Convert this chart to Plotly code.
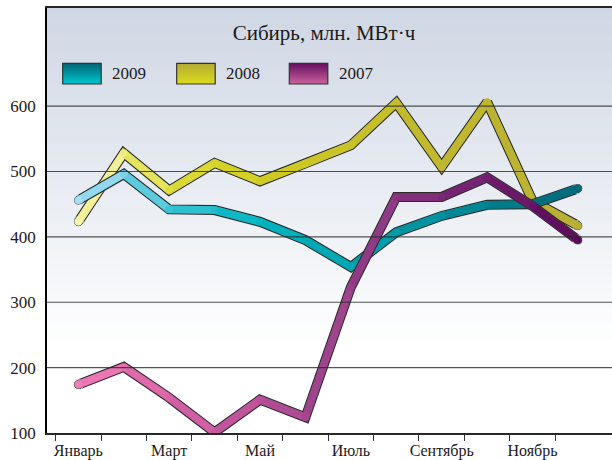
import plotly.graph_objects as go

# ---------------- data ----------------
months = ["Январь", "Февраль", "Март", "Апрель", "Май", "Июнь",
          "Июль", "Август", "Сентябрь", "Октябрь", "Ноябрь", "Декабрь"]
label_months = ["Январь", "Март", "Май", "Июль", "Сентябрь", "Ноябрь"]
y_ticks = [100, 200, 300, 400, 500, 600]
v2009 = [456, 496, 442, 441, 423, 395, 354, 407, 432, 449, 450, 474]
v2008 = [423, 528, 471, 513, 485, 512, 540, 605, 507, 606, 455, 417]
v2007 = [174, 201, 154, 101, 151, 124, 323, 461, 461, 491, 447, 395]
series_names = ["2009", "2008", "2007"]
title_text = "Сибирь, млн. МВт·ч"

# ---------------- styling ----------------
FONT = "Liberation Serif"
W, H = 612, 460
ML, MR, MT, MB = 47, 0, 8, 27
PW, PH = W - ML - MR, H - MT - MB

stops = {
    "2009": [(0, (166, 224, 245)), (1, (128, 208, 232)), (2, (60, 196, 212)),
             (4, (0, 180, 192)), (7, (0, 154, 168)), (11, (0, 104, 120))],
    "2008": [(0, (248, 244, 180)), (1, (236, 236, 128)), (2, (220, 220, 60)),
             (4, (208, 204, 32)), (7, (196, 188, 44)), (11, (184, 174, 52))],
    "2007": [(0, (240, 124, 184)), (2, (216, 100, 168)), (4, (184, 80, 152)),
             (6, (148, 64, 136)), (8, (124, 40, 120)), (11, (90, 10, 90))],
}
legend_cols = {
    "2009": ((0, 100, 115), (0, 198, 208)),
    "2008": ((178, 170, 50), (220, 220, 30)),
    "2007": ((100, 15, 95), (204, 98, 158)),
}


def interp(st, t):
    for (a, ca), (b, cb) in zip(st[:-1], st[1:]):
        if a <= t <= b:
            f = (t - a) / (b - a) if b > a else 0
            return tuple(int(round(ca[k] + (cb[k] - ca[k]) * f)) for k in range(3))
    return st[-1][1]


def rgb(c):
    return "rgb(%d,%d,%d)" % c


def xp(px):
    return (px - ML) / PW


def yp(py):
    return (H - MB - py) / PH


xs = list(range(len(months)))
data = {"2009": v2009, "2008": v2008, "2007": v2007}

fig = go.Figure()
OUT = "rgb(45,45,45)"
for name in ["2008", "2009", "2007"]:
    vals = data[name]
    st = stops[name]
    # outline
    fig.add_trace(go.Scatter(x=xs, y=vals, mode="lines+markers",
                             line=dict(color=OUT, width=10),
                             marker=dict(size=[10] + [0] * (len(xs) - 2) + [10], color=OUT),
                             hoverinfo="skip", showlegend=False))
    # full mitered polyline in a middle colour (fills the joins)
    fig.add_trace(go.Scatter(x=xs, y=vals, mode="lines",
                             line=dict(color=rgb(interp(st, 7)), width=7.6),
                             hoverinfo="skip", showlegend=False))
    # coloured segments (gradient along the line)
    for i in range(len(xs) - 1):
        c = interp(st, i + 0.5)
        fig.add_trace(go.Scatter(x=xs[i:i + 2], y=vals[i:i + 2], mode="lines",
                                 line=dict(color=rgb(c), width=7.6),
                                 hoverinfo="skip", showlegend=False))
    fig.add_trace(go.Scatter(x=xs, y=vals, mode="markers",
                             marker=dict(size=7.6, color=[rgb(interp(st, i)) for i in xs],
                                         line=dict(width=0)),
                             hoverinfo="skip", showlegend=False))

shapes = []
# background gradient of the plot area
top = (207, 215, 228)
N = 60
g0 = 0.2
for k in range(N):
    y0 = g0 + (1 - g0) * k / N
    y1 = g0 + (1 - g0) * (k + 1) / N
    f = (k + 0.5) / N
    c = tuple(int(round(255 + (top[j] - 255) * f)) for j in range(3))
    shapes.append(dict(type="rect", xref="x domain", yref="y domain",
                       x0=0, x1=1, y0=y0, y1=y1 + 0.002, fillcolor=rgb(c),
                       line=dict(width=0), layer="below"))
# gridlines above the lines
for t in y_ticks[1:]:
    shapes.append(dict(type="line", xref="x domain", yref="y", x0=0, x1=1, y0=t, y1=t,
                       line=dict(color="rgba(40,40,40,0.8)", width=1.1), layer="above"))

# legend boxes
annotations = []
box_x = {"2009": 62.7, "2008": 176.7, "2007": 289.3}
bw, by0, by1 = 38.5, 63.3, 84.0
NB = 10
for name in series_names:
    x0 = box_x[name]
    ctop, cbot = legend_cols[name]
    for k in range(NB):
        f = (k + 0.5) / NB
        c = tuple(int(round(ctop[j] + (cbot[j] - ctop[j]) * f)) for j in range(3))
        ya = by0 + (by1 - by0) * k / NB
        yb = min(by1, by0 + (by1 - by0) * (k + 1) / NB + 1.0)
        shapes.append(dict(type="rect", xref="paper", yref="paper",
                           x0=xp(x0), x1=xp(x0 + bw), y0=yp(yb), y1=yp(ya),
                           fillcolor=rgb(c), line=dict(width=0), layer="above"))
    shapes.append(dict(type="rect", xref="paper", yref="paper",
                       x0=xp(x0), x1=xp(x0 + bw), y0=yp(by1), y1=yp(by0),
                       fillcolor="rgba(0,0,0,0)", line=dict(color="rgb(50,50,50)", width=1.2),
                       layer="above"))
    annotations.append(dict(xref="paper", yref="paper", x=xp(x0 + bw + 9), y=yp(73.8),
                            xanchor="left", yanchor="middle", text=name, showarrow=False,
                            font=dict(family=FONT, size=17, color="#1a1a1a")))

fig.update_layout(
    width=W, height=H,
    margin=dict(l=ML, r=MR, t=MT, b=MB),
    paper_bgcolor="white", plot_bgcolor="white",
    title=dict(text=title_text, x=324 / W, y=1 - 33 / H, xref="container", yref="container",
               xanchor="center", yanchor="middle",
               font=dict(family=FONT, size=21, color="#1a1a1a")),
    shapes=shapes, annotations=annotations, showlegend=False,
    xaxis=dict(range=[-0.69, 11.75], tickmode="array", tickvals=[0, 2, 4, 6, 8, 10],
               ticktext=label_months, ticks="", showgrid=False, zeroline=False,
               showline=True, linecolor="rgb(40,40,40)", linewidth=1.5, mirror=True,
               ticklabelstandoff=2,
               tickfont=dict(family=FONT, size=16, color="#1a1a1a"),
               minor=dict(tickmode="array", tickvals=[i - 0.5 for i in range(12)],
                          ticks="outside", ticklen=6, tickwidth=1, tickcolor="rgb(50,50,50)",
                          showgrid=False)),
    yaxis=dict(range=[100, 750], tickmode="array", tickvals=y_ticks, ticks="",
               showgrid=False, zeroline=False, showline=True, linecolor="black",
               linewidth=1.5, ticklabelstandoff=6,
               tickfont=dict(family=FONT, size=17, color="#1a1a1a")),
)

fig.write_html("out.html", config={"displayModeBar": False},
               post_script="document.body.style.margin='0px';document.body.style.overflow='hidden';")
